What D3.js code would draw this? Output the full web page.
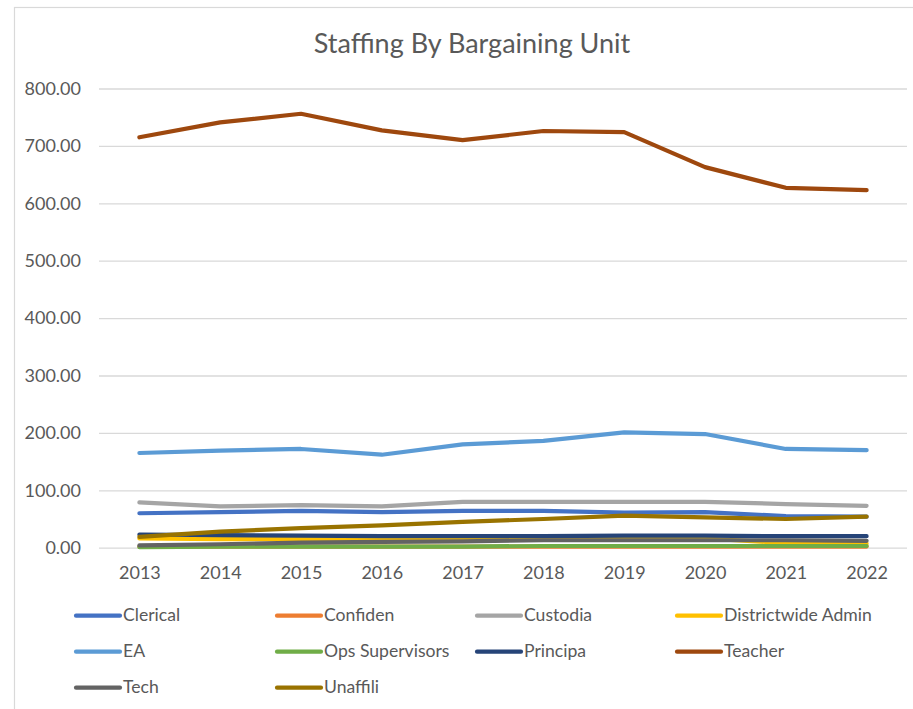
<!DOCTYPE html>
<html>
<head>
<meta charset="utf-8">
<script src="https://cdn.jsdelivr.net/npm/d3@7"></script>
<style>
  html, body { margin: 0; padding: 0; background: #fff; }
  svg { display: block; }
  text { font-family: Lato, "Open Sans", sans-serif; fill: #595959; }
</style>
</head>
<body>
<svg id="chart" width="913" height="709"></svg>
<script>
// Fiscal years on the category axis
const years = ["2013", "2014", "2015", "2016", "2017", "2018", "2019", "2020", "2021", "2022"];

// Staff counts per bargaining unit, one value per year
const clerical     = [60, 62, 64, 62, 64, 64, 61, 62, 55, 54];
const confiden     = [2, 2, 2, 2, 2, 2, 2, 2, 2, 2];
const custodia     = [79, 72, 74, 72, 80, 80, 80, 80, 76, 73];
const districtwide = [16, 15, 15, 15, 15, 16, 16, 16, 8, 7];
const ea           = [165, 169, 172, 162, 180, 186, 201, 198, 172, 170];
const opsSup       = [1, 2, 2, 2, 2, 3, 3, 3, 3, 3];
const principa     = [23, 22, 21, 20, 20, 20, 21, 21, 20, 20];
const teacher      = [715, 741, 756, 727, 710, 726, 724, 663, 627, 623];
const tech         = [4, 6, 9, 10, 11, 13, 13, 13, 13, 12];
const unaffili     = [19, 28, 34, 39, 45, 50, 56, 53, 50, 54];

// Value-axis ticks
const yTicks = [0, 100, 200, 300, 400, 500, 600, 700, 800];

const seriesNames  = ["Clerical", "Confiden", "Custodia", "Districtwide Admin", "EA",
                      "Ops Supervisors", "Principa", "Teacher", "Tech", "Unaffili"];
const seriesValues = [clerical, confiden, custodia, districtwide, ea,
                      opsSup, principa, teacher, tech, unaffili];
const seriesColors = ["#4472C4", "#ED7D31", "#A5A5A5", "#FFC000", "#5B9BD5",
                      "#70AD47", "#264478", "#9E480E", "#636363", "#997300"];

const series = seriesNames.map((name, i) => ({
  name,
  color: seriesColors[i],
  values: seriesValues[i].map((v, j) => ({ year: years[j], value: v }))
}));

const svg = d3.select("#chart");

// Chart frame
svg.append("rect")
  .attr("x", 14.5).attr("y", 7.5)
  .attr("width", 1000).attr("height", 1000)
  .attr("fill", "#fff")
  .attr("stroke", "#d9d9d9")
  .attr("stroke-width", 1.2);

const plot = { left: 99, right: 907, top: 88.5, bottom: 547.7 };

const x = d3.scalePoint()
  .domain(years)
  .range([plot.left, plot.right])
  .padding(0.5);

const y = d3.scaleLinear()
  .domain([0, 800])
  .range([plot.bottom, plot.top]);

// Title
svg.append("text")
  .attr("x", 472).attr("y", 46)
  .attr("text-anchor", "middle")
  .attr("dominant-baseline", "middle")
  .style("font-size", "27px")
  .text("Staffing By Bargaining Unit");

// Horizontal gridlines + value labels
const yAxis = d3.axisLeft(y)
  .tickValues(yTicks)
  .tickSize(-(plot.right - plot.left))
  .tickPadding(18)
  .tickFormat(d3.format(".2f"));

const yG = svg.append("g")
  .attr("transform", `translate(${plot.left},0)`)
  .call(yAxis);
yG.select(".domain").remove();
yG.selectAll(".tick line").attr("stroke", "#d9d9d9").attr("stroke-width", 1.3);
yG.selectAll(".tick text")
  .style("font-size", "18px")
  .style("font-family", "Lato, 'Open Sans', sans-serif")
  .attr("fill", "#595959");

// Category labels
const xAxis = d3.axisBottom(x).tickSize(0).tickPadding(19);
const xG = svg.append("g")
  .attr("transform", `translate(0,${plot.bottom})`)
  .call(xAxis);
xG.select(".domain").remove();
xG.selectAll(".tick text")
  .style("font-size", "18px")
  .style("font-family", "Lato, 'Open Sans', sans-serif")
  .attr("fill", "#595959");

// Series lines
const line = d3.line()
  .x(d => x(d.year))
  .y(d => y(d.value));

svg.append("g")
  .selectAll("path")
  .data(series)
  .join("path")
  .attr("d", d => line(d.values))
  .attr("fill", "none")
  .attr("stroke", d => d.color)
  .attr("stroke-width", 4.2)
  .attr("stroke-linecap", "round")
  .attr("stroke-linejoin", "round");

// Legend: four columns, three rows
const legend = svg.append("g");
const colX = [76, 277, 477, 677];
const rowY = [615.7, 651.7, 687.7];
const items = legend.selectAll("g")
  .data(series)
  .join("g")
  .attr("transform", (d, i) => `translate(${colX[i % 4]},${rowY[Math.floor(i / 4)]})`);
items.append("line")
  .attr("x1", 0).attr("x2", 44)
  .attr("y1", 0).attr("y2", 0)
  .attr("stroke", d => d.color)
  .attr("stroke-width", 4.2)
  .attr("stroke-linecap", "round");
items.append("text")
  .attr("x", 47)
  .attr("y", 1)
  .attr("dominant-baseline", "middle")
  .style("font-size", "17.6px")
  .text(d => d.name);
</script>
</body>
</html>
